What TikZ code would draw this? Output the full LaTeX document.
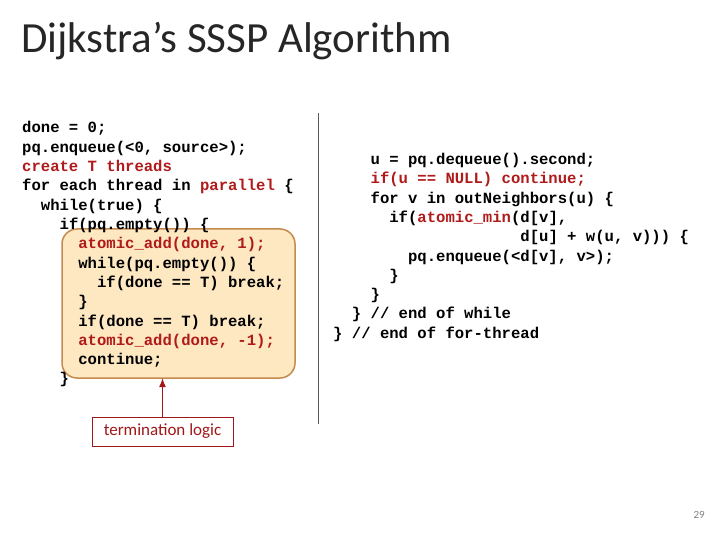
\documentclass[tikz,border=0pt]{standalone}
\usepackage{fontspec}
\setmainfont{Carlito}
\setmonofont{Liberation Mono}
\usetikzlibrary{positioning,arrows.meta}
\definecolor{codered}{HTML}{B01A1A}
\definecolor{boxfill}{HTML}{FDE8C2}
\definecolor{boxline}{HTML}{C48A4E}
\definecolor{arrowred}{HTML}{A01818}
\newcommand{\rd}[1]{\textcolor{codered}{#1}}
\begin{document}
\begin{tikzpicture}[x=1pt,y=-1pt,
    code/.style={anchor=base west,inner sep=0pt,font=\fontsize{15.6}{19}\ttfamily\bfseries},
    note/.style={draw=arrowred,fill=white,inner sep=4pt,minimum width=141pt,minimum height=29pt,font=\fontsize{17}{19}\selectfont}]
  \useasboundingbox (0,0) rectangle (720,540);
  \node[anchor=base west,inner sep=0pt,font=\fontsize{43}{46}\selectfont,text=black!85] (title) at (21,53) {Dijkstra’s SSSP Algorithm};
  % highlighted termination block
  \draw[boxline,fill=boxfill,line width=1.5pt,rounded corners=15pt] (62,229) rectangle (295,378);
  \draw[gray!70!black] (318,113) -- (318,424);
  % left column
  \node[code] (l1) at (22,133) {done = 0;};
  \node[code] (l2) at (22,152.3) {pq.enqueue(<0, source>);};
  \node[code] (l3) at (22,171.6) {\rd{create T threads}};
  \node[code] (l4) at (22,190.9) {for each thread in \rd{parallel} \{};
  \node[code] (l5) at (22,210.2) {\ \ while(true) \{};
  \node[code] (l6) at (22,229.5) {\ \ \ \ if(pq.empty()) \{};
  \node[code] (l7) at (22,248.8) {\ \ \ \ \ \ \rd{atomic\_add(done, 1);}};
  \node[code] (l8) at (22,268.1) {\ \ \ \ \ \ while(pq.empty()) \{};
  \node[code] (l9) at (22,287.4) {\ \ \ \ \ \ \ \ if(done == T) break;};
  \node[code] (l10) at (22,306.7) {\ \ \ \ \ \ \}};
  \node[code] (l11) at (22,326) {\ \ \ \ \ \ if(done == T) break;};
  \node[code] (l12) at (22,345.3) {\ \ \ \ \ \ \rd{atomic\_add(done, -1);}};
  \node[code] (l13) at (22,364.6) {\ \ \ \ \ \ continue;};
  \node[code] (l14) at (22,383.9) {\ \ \ \ \}};
  % right column
  \node[code] (r1) at (333,164.5) {\ \ \ \ u = pq.dequeue().second;};
  \node[code] (r2) at (333,183.8) {\ \ \ \ \rd{if(u == NULL) continue;}};
  \node[code] (r3) at (333,203.1) {\ \ \ \ for v in outNeighbors(u) \{};
  \node[code] (r4) at (333,222.4) {\ \ \ \ \ \ if(\rd{atomic\_min}(d[v],};
  \node[code] (r5) at (333,241.7) {\ \ \ \ \ \ \ \ \ \ \ \ \ \ \ \ \ \ \ \ d[u] + w(u, v))) \{};
  \node[code] (r6) at (333,261) {\ \ \ \ \ \ \ \ pq.enqueue(<d[v], v>);};
  \node[code] (r7) at (333,280.3) {\ \ \ \ \ \ \}};
  \node[code] (r8) at (333,299.6) {\ \ \ \ \}};
  \node[code] (r9) at (333,318.9) {\ \ \} // end of while};
  \node[code] (r10) at (333,338.2) {\} // end of for-thread};
  % annotation
  \node[note] (term) at (162.5,431.5) {\textcolor{arrowred}{termination logic}};
  \coordinate (boxbottom) at (162.5,378);
  \draw[arrowred,line width=1.5pt,-{Latex[length=9pt,width=7pt]}] (term) -- (boxbottom);
  \node[anchor=base east,inner sep=0pt,text=gray,font=\fontsize{11}{13}\selectfont] (page) at (705,518) {29};
\end{tikzpicture}
\end{document}
